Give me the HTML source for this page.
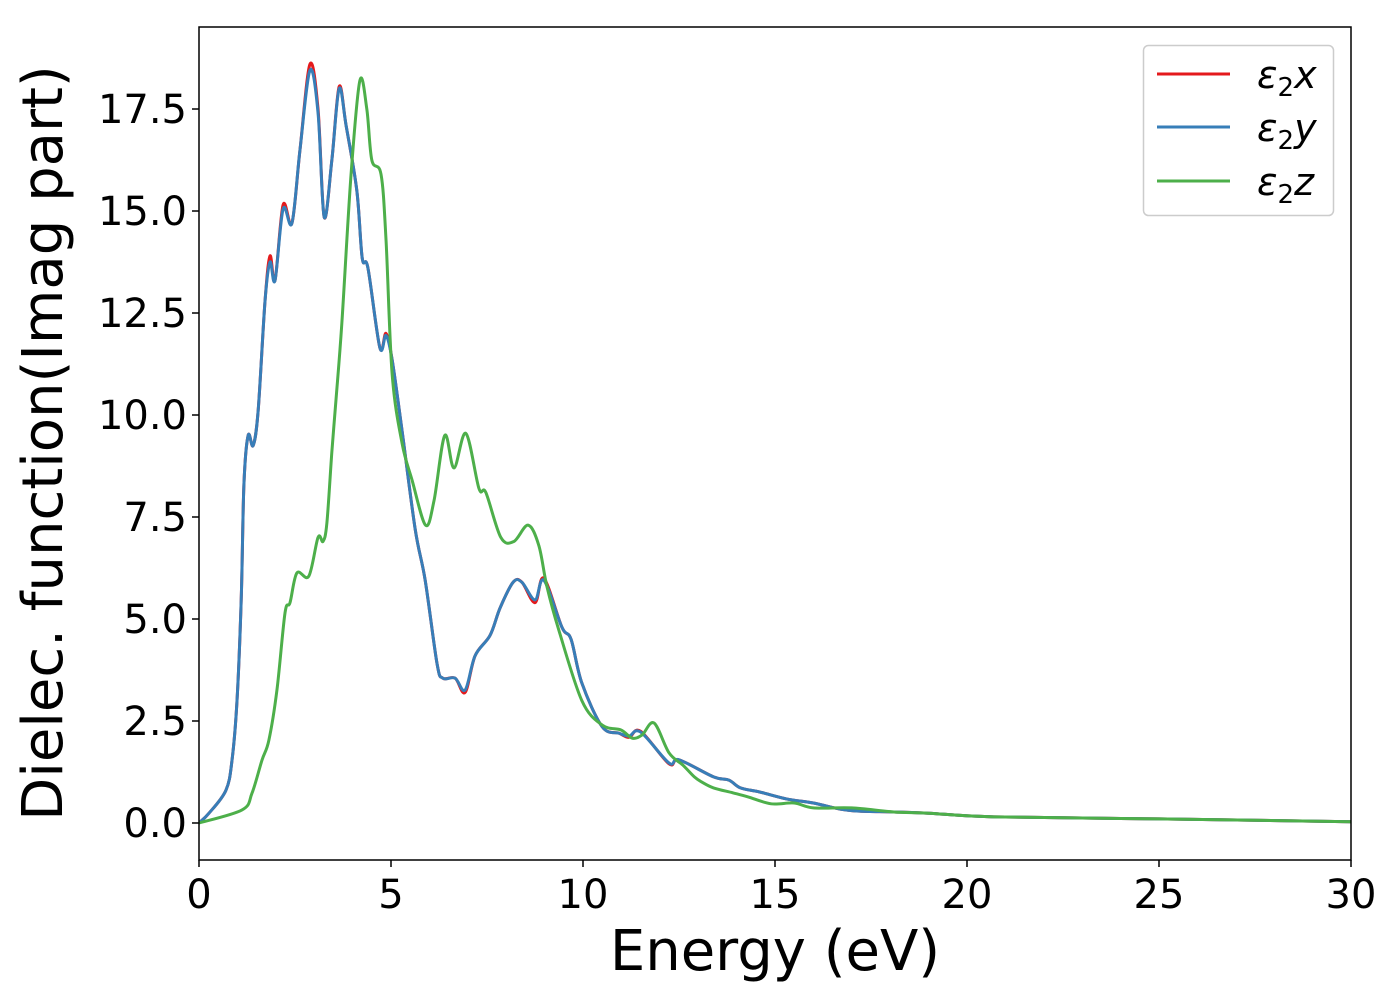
<!DOCTYPE html>
<html><head><meta charset="utf-8"><style>
body{margin:0;background:#fff}
svg text{font-family:"DejaVu Sans","Liberation Sans",sans-serif;fill:#000}
</style></head><body>
<svg id="chart" width="1400" height="1000" xmlns="http://www.w3.org/2000/svg">
<rect width="1400" height="1000" fill="#fff"/>
<g id="plot"></g>
<g id="axes"></g>
<text x="775" y="970" font-size="56" text-anchor="middle">Energy (eV)</text>
<text transform="translate(62,443) rotate(-90)" font-size="56" text-anchor="middle">Dielec. function(Imag part)</text>
<g>
<rect x="1143.5" y="45.5" width="190" height="170" rx="5" fill="#fff" stroke="#ccc" stroke-width="1.5"/>
<line x1="1157" y1="74" x2="1230" y2="74" stroke="#e41a1c" stroke-width="3"/>
<text x="1257" y="88" font-size="38" font-style="italic">ε<tspan font-size="26" dy="8" font-style="normal">2</tspan><tspan dy="-8">x</tspan></text>
<line x1="1157" y1="127" x2="1230" y2="127" stroke="#377eb8" stroke-width="3"/>
<text x="1257" y="141" font-size="38" font-style="italic">ε<tspan font-size="26" dy="8" font-style="normal">2</tspan><tspan dy="-8">y</tspan></text>
<line x1="1157" y1="181" x2="1230" y2="181" stroke="#4daf4a" stroke-width="3"/>
<text x="1257" y="195" font-size="38" font-style="italic">ε<tspan font-size="26" dy="8" font-style="normal">2</tspan><tspan dy="-8">z</tspan></text>
</g>
</svg>
<script>
const xTicks=[0,5,10,15,20,25,30];
const yTicks=[0,2.5,5,7.5,10,12.5,15,17.5];
const yTickLabels=["0.0","2.5","5.0","7.5","10.0","12.5","15.0","17.5"];
const energyXY=[0,0.26,0.7,0.86,0.99,1.1,1.17,1.28,1.41,1.54,1.72,1.85,1.98,2.19,2.42,2.63,2.89,3.1,3.26,3.46,3.65,3.83,4.11,4.25,4.4,4.71,4.87,5.03,5.29,5.63,5.89,6.2,6.35,6.67,6.93,7.19,7.58,7.84,8.18,8.41,8.75,8.98,9.45,9.69,9.97,10.5,10.94,11.2,11.5,12.24,12.5,13.4,13.8,14.1,14.6,15.3,16.0,16.7,17.2,18.1,19,20.7,25,30];
const eps2y=[0,0.24,0.8,1.54,3.0,5.5,8.3,9.5,9.25,10.1,12.8,13.75,13.3,15.05,14.7,16.5,18.45,17.4,14.85,16.25,18.0,17.1,15.5,13.85,13.6,11.65,11.95,11.35,9.6,7.2,5.95,3.9,3.55,3.55,3.26,4.1,4.6,5.27,5.9,5.9,5.47,5.95,4.8,4.5,3.43,2.36,2.2,2.13,2.23,1.47,1.55,1.13,1.05,0.86,0.76,0.59,0.49,0.34,0.29,0.27,0.24,0.15,0.1,0.03];
const eps2x=[0,0.24,0.8,1.54,3.0,5.5,8.3,9.5,9.25,10.1,12.8,13.9,13.3,15.15,14.7,16.5,18.6,17.5,14.85,16.25,18.05,17.1,15.5,13.85,13.6,11.65,12.0,11.35,9.6,7.2,5.95,3.9,3.55,3.55,3.2,4.1,4.6,5.27,5.9,5.9,5.4,6.0,4.8,4.5,3.43,2.36,2.2,2.1,2.25,1.45,1.55,1.13,1.05,0.86,0.76,0.59,0.49,0.34,0.29,0.27,0.24,0.15,0.1,0.03];
const energyZ=[0,1.12,1.38,1.64,1.82,2.03,2.24,2.37,2.55,2.86,3.1,3.23,3.33,3.46,3.57,3.72,3.96,4.19,4.37,4.5,4.74,4.87,5.03,5.29,5.55,5.9,6.12,6.4,6.64,6.95,7.29,7.47,7.86,8.2,8.57,8.85,9.06,9.37,9.97,10.5,10.99,11.28,11.54,11.85,12.24,12.6,12.9,13.1,13.4,13.9,14.3,14.9,15.5,16.0,17.0,18.1,19,20.7,25,30];
const eps2z=[0,0.32,0.73,1.54,2.03,3.26,5.15,5.4,6.13,6.05,7.0,6.9,7.35,9.1,10.4,12.25,15.9,18.2,17.5,16.25,15.9,14.3,11.0,9.3,8.4,7.3,7.9,9.5,8.7,9.55,8.2,8.1,7.0,6.9,7.3,6.8,5.8,4.73,3.0,2.4,2.28,2.08,2.16,2.45,1.72,1.42,1.13,1.0,0.86,0.74,0.64,0.47,0.49,0.37,0.37,0.27,0.24,0.15,0.1,0.03];

const X0=199,X1=1351,Y0=860,Y1=27;
const xmin=0,xmax=30,ymin=-0.907,ymax=19.51;
const sx=v=>X0+(v-xmin)/(xmax-xmin)*(X1-X0);
const sy=v=>Y0-(v-ymin)/(ymax-ymin)*(Y0-Y1);
const NS='http://www.w3.org/2000/svg';
function pathFrom(xs,ys){
  const p=xs.map((x,i)=>[sx(x),sy(ys[i])]);
  let d='M'+p[0][0]+','+p[0][1];
  for(let i=0;i<p.length-1;i++){
    const a=p[Math.max(0,i-1)],b=p[i],c=p[i+1],e=p[Math.min(p.length-1,i+2)];
    const t=6;
    d+=' C'+(b[0]+(c[0]-a[0])/t)+','+(b[1]+(c[1]-a[1])/t)+' '+(c[0]-(e[0]-b[0])/t)+','+(c[1]-(e[1]-b[1])/t)+' '+c[0]+','+c[1];
  }
  return d;
}
const plot=document.getElementById('plot');
const clip=document.createElementNS(NS,'clipPath');clip.id='cp';
const cr=document.createElementNS(NS,'rect');cr.setAttribute('x',X0);cr.setAttribute('y',Y1);cr.setAttribute('width',X1-X0);cr.setAttribute('height',Y0-Y1);
clip.appendChild(cr);plot.appendChild(clip);
plot.setAttribute('clip-path','url(#cp)');
const series=[[energyXY,eps2x,'#e41a1c','line-eps2x'],[energyXY,eps2y,'#377eb8','line-eps2y'],[energyZ,eps2z,'#4daf4a','line-eps2z']];
series.forEach(s=>{
  const el=document.createElementNS(NS,'path');
  el.setAttribute('d',pathFrom(s[0],s[1]));
  el.setAttribute('fill','none');el.setAttribute('stroke',s[2]);el.setAttribute('stroke-width','3');el.setAttribute('stroke-linejoin','round');
  
  
  plot.appendChild(el);
});
const axes=document.getElementById('axes');
const fr=document.createElementNS(NS,'rect');
fr.setAttribute('x',X0);fr.setAttribute('y',Y1);fr.setAttribute('width',X1-X0);fr.setAttribute('height',Y0-Y1);
fr.setAttribute('fill','none');fr.setAttribute('stroke','#000');fr.setAttribute('stroke-width','1.5');


axes.appendChild(fr);
xTicks.forEach(v=>{
  const l=document.createElementNS(NS,'line');
  l.setAttribute('x1',sx(v));l.setAttribute('x2',sx(v));l.setAttribute('y1',Y0);l.setAttribute('y2',Y0+7);l.setAttribute('stroke','#000');l.setAttribute('stroke-width','1.5');
  
  
  axes.appendChild(l);
  const t=document.createElementNS(NS,'text');
  t.setAttribute('x',sx(v));t.setAttribute('y',Y0+48);t.setAttribute('font-size','40');t.setAttribute('text-anchor','middle');
  t.textContent=String(v);
  
  
  axes.appendChild(t);
});
yTicks.forEach((v,i)=>{
  const l=document.createElementNS(NS,'line');
  l.setAttribute('x1',X0-7);l.setAttribute('x2',X0);l.setAttribute('y1',sy(v));l.setAttribute('y2',sy(v));l.setAttribute('stroke','#000');l.setAttribute('stroke-width','1.5');
  
  
  axes.appendChild(l);
  const t=document.createElementNS(NS,'text');
  t.setAttribute('x',X0-12);t.setAttribute('y',sy(v)+14);t.setAttribute('font-size','40');t.setAttribute('text-anchor','end');
  t.textContent=yTickLabels[i];
  
  
  axes.appendChild(t);
});
</script>
</body></html>
